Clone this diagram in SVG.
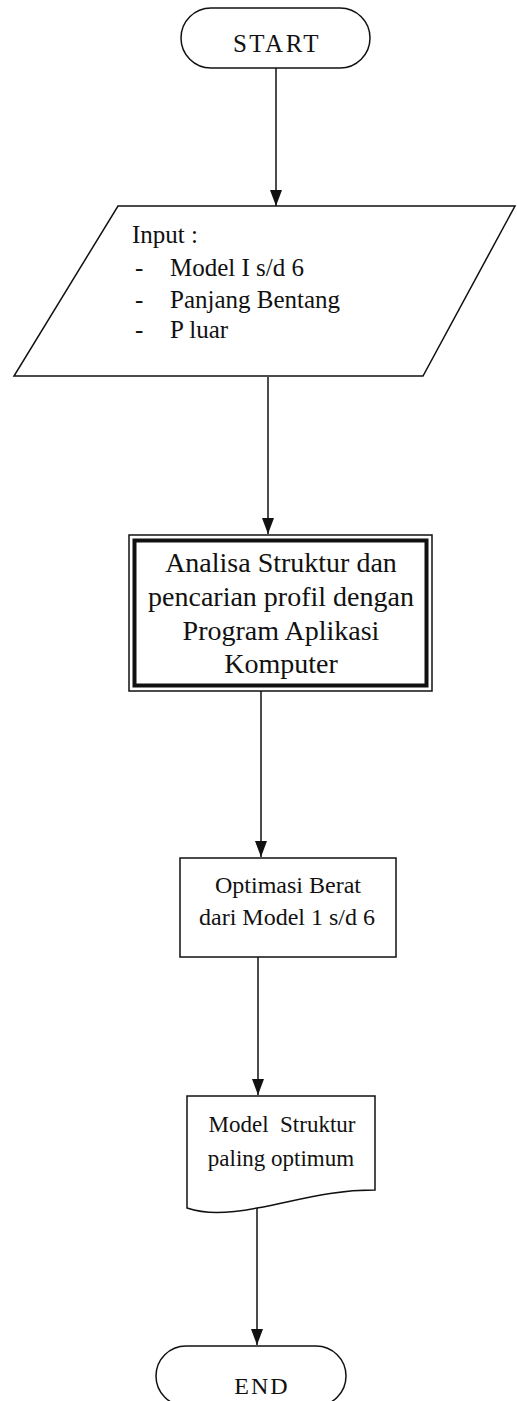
<svg xmlns="http://www.w3.org/2000/svg" width="517" height="1401" viewBox="0 0 517 1401">
<style>
.s{fill:#fff;stroke:#111;stroke-width:1.5}
.t{font-family:"Liberation Serif","Times New Roman",serif;font-size:25px;fill:#111}
.c{text-anchor:middle}
.e{stroke:#111;stroke-width:1.5;fill:none}
</style>
<defs>
<marker id="ah" viewBox="0 0 16 12" refX="16" refY="6" markerWidth="16" markerHeight="12" markerUnits="userSpaceOnUse" orient="auto">
<path d="M0,0 L16,6 L0,12 Z" fill="#111"/>
</marker>
</defs>
<rect width="517" height="1401" fill="#fff"/>
<g id="connectors">
<line class="e" x1="276" y1="68" x2="276" y2="206" marker-end="url(#ah)"/>
<line class="e" x1="268" y1="377" x2="268" y2="534" marker-end="url(#ah)"/>
<line class="e" x1="261" y1="691" x2="261" y2="857" marker-end="url(#ah)"/>
<line class="e" x1="258" y1="957" x2="258" y2="1095" marker-end="url(#ah)"/>
<line class="e" x1="257" y1="1208" x2="257" y2="1345" marker-end="url(#ah)"/>
</g>
<g id="start">
<rect class="s" x="181" y="8" width="189" height="60" rx="30" ry="30"/>
<text class="t c" x="277" y="52" style="font-size:25px;letter-spacing:2.5px">START</text>
</g>
<g id="input">
<polygon class="s" points="118,206 515,206 423,376 14,376"/>
<text class="t" x="132" y="243">Input :</text>
<text class="t" x="135" y="276">-</text><text class="t" x="170" y="276">Model I s/d 6</text>
<text class="t" x="135" y="308">-</text><text class="t" x="170" y="308">Panjang Bentang</text>
<text class="t" x="135" y="338">-</text><text class="t" x="170" y="338">P luar</text>
</g>
<g id="analisa">
<rect x="129" y="535" width="303" height="156" fill="#fff" stroke="#111" stroke-width="1.5"/>
<rect x="134.5" y="540.5" width="292" height="145" fill="none" stroke="#111" stroke-width="4"/>
<text class="t c" x="281" y="572" style="font-size:28px">Analisa Struktur dan</text>
<text class="t c" x="281" y="606" style="font-size:28px">pencarian profil dengan</text>
<text class="t c" x="281" y="640" style="font-size:28px">Program Aplikasi</text>
<text class="t c" x="281" y="673" style="font-size:28px">Komputer</text>
</g>
<g id="optimasi">
<rect class="s" x="180" y="858" width="216" height="99"/>
<text class="t c" x="288" y="893" style="font-size:24px">Optimasi Berat</text>
<text class="t c" x="287" y="925" style="font-size:24px">dari Model 1 s/d 6</text>
</g>
<g id="model">
<path class="s" d="M187,1096 L375,1096 L375,1190 C330,1190 300,1200 257,1208 C225,1214 205,1214 187,1208 Z"/>
<text class="t c" x="282" y="1132" style="font-size:23px;white-space:pre" xml:space="preserve">Model  Struktur</text>
<text class="t c" x="281" y="1166" style="font-size:23px">paling optimum</text>
</g>
<g id="end">
<rect class="s" x="156" y="1346" width="190" height="60" rx="30" ry="30"/>
<text class="t c" x="262" y="1394" style="font-size:24px;letter-spacing:2px">END</text>
</g>
</svg>
